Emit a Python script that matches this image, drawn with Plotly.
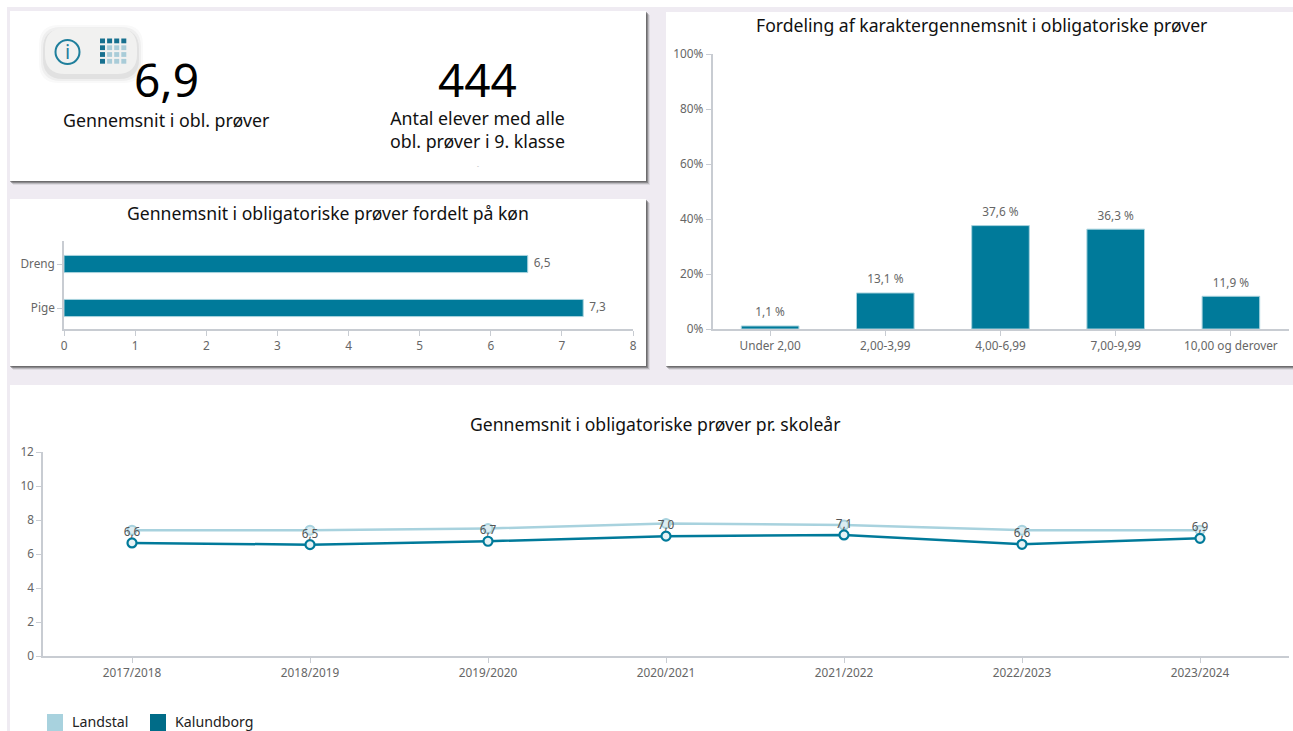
import plotly.graph_objects as go

W, H = 1293, 731
FONT = "Noto Sans"
TEAL = "#007a9a"
LIGHT = "#a8d2de"
BAR_EDGE = "#a9d3de"
AXIS = "#c8ccd2"
TICKTXT = "#666666"
PAGE = "#efebf2"

dist_cats = ["Under 2,00", "2,00-3,99", "4,00-6,99", "7,00-9,99", "10,00 og derover"]
dist_vals = [1.1, 13.1, 37.6, 36.3, 11.9]
gender_cats = ["Pige", "Dreng"]
gender_vals = [7.3, 6.52]
years = ["2017/2018", "2018/2019", "2019/2020", "2020/2021", "2021/2022", "2022/2023", "2023/2024"]
landstal = [7.4, 7.4, 7.5, 7.8, 7.7, 7.4, 7.4]
kalundborg = [6.65, 6.55, 6.75, 7.05, 7.12, 6.57, 6.92]
kalundborg_labels = [6.6, 6.5, 6.7, 7.0, 7.1, 6.6, 6.9]


def fx(px):
    return px / W


def fy(py):
    return 1 - py / H


def rect(x0, y0, x1, y1, fill, line=None, lw=0):
    return dict(type="rect", xref="paper", yref="paper", layer="below",
                x0=fx(x0), x1=fx(x1), y0=fy(y1), y1=fy(y0),
                fillcolor=fill, line=dict(color=line or fill, width=lw))


def label(x, y, text, size, color="#111111", xanchor="center", yanchor="middle"):
    return dict(xref="paper", yref="paper", x=fx(x), y=fy(y), text=text, showarrow=False,
                xanchor=xanchor, yanchor=yanchor, align="center",
                font=dict(family=FONT, size=size, color=color))


def axis_common():
    return dict(automargin=False, showgrid=False, zeroline=False, showline=True, linecolor=AXIS, linewidth=1.5,
                ticks="outside", ticklen=5, tickcolor=AXIS, tickwidth=1,
                tickfont=dict(family=FONT, size=11.8, color=TICKTXT))


def text_layer(x, y, text, xa, ya, pos, size, color=TICKTXT):
    return go.Scatter(x=x, y=y, xaxis=xa, yaxis=ya, mode="markers+text", text=text, textposition=pos,
                      marker=dict(size=size, opacity=0), cliponaxis=False, hoverinfo="skip",
                      textfont=dict(family=FONT, size=11.8, color=color), showlegend=False)


def comma(v):
    return f"{v:.1f}".replace(".", ",")


fig = go.Figure()

fig.add_trace(go.Bar(x=dist_cats, y=dist_vals, xaxis="x", yaxis="y", width=0.5,
                     marker=dict(color=TEAL, line=dict(color=BAR_EDGE, width=1)), showlegend=False))
fig.add_trace(text_layer(dist_cats, dist_vals, [comma(v) + " %" for v in dist_vals],
                         "x", "y", "top center", 9))
fig.add_trace(go.Bar(y=gender_cats, x=gender_vals, xaxis="x2", yaxis="y2", orientation="h", width=0.39,
                     marker=dict(color=TEAL, line=dict(color=BAR_EDGE, width=1)), showlegend=False))
fig.add_trace(text_layer(gender_vals, gender_cats, [comma(v) for v in gender_vals],
                         "x2", "y2", "middle right", 8))
fig.add_trace(go.Scatter(x=years, y=landstal, xaxis="x3", yaxis="y3", mode="lines+markers", name="Landstal",
                         line=dict(color=LIGHT, width=2.5),
                         marker=dict(size=9, color="#dcecf1", line=dict(color=LIGHT, width=2)),
                         showlegend=False))
fig.add_trace(go.Scatter(x=years, y=kalundborg, xaxis="x3", yaxis="y3", mode="lines+markers", name="Kalundborg",
                         line=dict(color=TEAL, width=2.5),
                         marker=dict(size=9, color="#e6f2f5", line=dict(color=TEAL, width=2.2)),
                         showlegend=False))
fig.add_trace(text_layer(years, kalundborg, [comma(v) for v in kalundborg_labels],
                         "x3", "y3", "top center", 5, "#555555"))

shapes = [rect(7, 7, W + 2, H + 2, PAGE)]
for x0, y0, x1, y1 in [(10, 11, 646, 181), (10, 199, 646, 366), (666, 12, W + 3, 366)]:
    for off, alpha in [(4, 0.10), (3, 0.22), (2, 0.40), (1, 0.45)]:
        shapes.append(rect(x0 + off - 1, y0 + off, x1 + off, y1 + off, f"rgba(70,70,70,{alpha})"))
    shapes.append(rect(x0, y0, x1, y1, "#ffffff"))
shapes.append(rect(10, 385, W + 2, H + 2, "#ffffff"))


def pill(x0, y0, x1, y1, r, fill):
    X0, X1 = fx(x0), fx(x1)
    Y0, Y1 = fy(y0), fy(y1)
    rx, ry = r / W, r / H
    path = (f"M {X0 + rx} {Y0} L {X1 - rx} {Y0} Q {X1} {Y0} {X1} {Y0 - ry} "
            f"L {X1} {Y1 + ry} Q {X1} {Y1} {X1 - rx} {Y1} L {X0 + rx} {Y1} "
            f"Q {X0} {Y1} {X0} {Y1 + ry} L {X0} {Y0 - ry} Q {X0} {Y0} {X0 + rx} {Y0} Z")
    return dict(type="path", xref="paper", yref="paper", layer="below", path=path,
                fillcolor=fill, line=dict(width=0))


for grow, alpha in [(6, 0.03), (4, 0.05), (2, 0.08)]:
    shapes.append(pill(45 - grow, 28 - grow + 3, 137 + grow, 74 + grow + 3, 20, f"rgba(60,60,60,{alpha})"))
shapes.append(pill(45, 28, 137, 74, 20, "#f1f1f0"))

# info icon
shapes.append(dict(type="circle", xref="paper", yref="paper", layer="below",
                   x0=fx(55.5), x1=fx(79.5), y0=fy(64), y1=fy(40),
                   fillcolor="rgba(0,0,0,0)", line=dict(color="#1f7f9c", width=2)))
# grid icon
for r in range(4):
    for c in range(4):
        x = 100 + c * 7.1
        y = 38.5 + r * 6.8
        dark = r == 0 or c == 0
        shapes.append(rect(x, y, x + 5, y + 4.8, "#17708f" if dark else "#a9ccd8"))

# legend swatches
shapes.append(rect(47, 714, 63, H + 3, LIGHT))
shapes.append(rect(150, 714, 166, H + 3, "#006c88"))

annotations = [
    label(166, 79, "6,9", 46, "#000000"),
    label(478, 79, "444", 46, "#000000"),
    label(166, 120, "Gennemsnit i obl. prøver", 17.8),
    label(478, 130, "Antal elever med alle<br>obl. prøver i 9. klasse", 17.8),
    label(478, 166, "-", 6, "#999999"),
    label(67.5, 52, "i", 20, "#1f7f9c"),
    label(328, 213, "Gennemsnit i obligatoriske prøver fordelt på køn", 17.6),
    label(981, 25, "Fordeling af karaktergennemsnit i obligatoriske prøver", 17.6),
    label(655, 424, "Gennemsnit i obligatoriske prøver pr. skoleår", 17.6),
    label(70, 721, "Landstal", 14.2, "#222222", xanchor="left"),
    label(173, 721, "Kalundborg", 14.2, "#222222", xanchor="left"),
]

fig.update_layout(
    width=W, height=H, autosize=False,
    margin=dict(l=0, r=0, t=0, b=0, autoexpand=False),
    paper_bgcolor="#ffffff", plot_bgcolor="rgba(0,0,0,0)",
    showlegend=False,
    shapes=shapes,
    annotations=annotations,
    xaxis=dict(domain=[fx(712.5), fx(1288.5)], anchor="y", type="category", **axis_common()),
    yaxis=dict(domain=[fy(329), fy(54)], anchor="x", range=[0, 100], dtick=20,
               ticksuffix="%", **axis_common()),
    xaxis2=dict(domain=[fx(64), fx(633)], anchor="y2", range=[0, 8], dtick=1, **axis_common()),
    yaxis2=dict(domain=[fy(329), fy(241)], anchor="x2", type="category", range=[-0.477, 1.523], **axis_common()),
    xaxis3=dict(domain=[fx(43), fx(1289)], anchor="y3", type="category", range=[-0.5, 6.5], **axis_common()),
    yaxis3=dict(domain=[fy(656), fy(452)], anchor="x3", range=[0, 12], dtick=2, **axis_common()),
)

fig.write_html("out.html", config=dict(displayModeBar=False),
               post_script="document.body.style.margin='0';document.body.style.overflow='hidden';")
